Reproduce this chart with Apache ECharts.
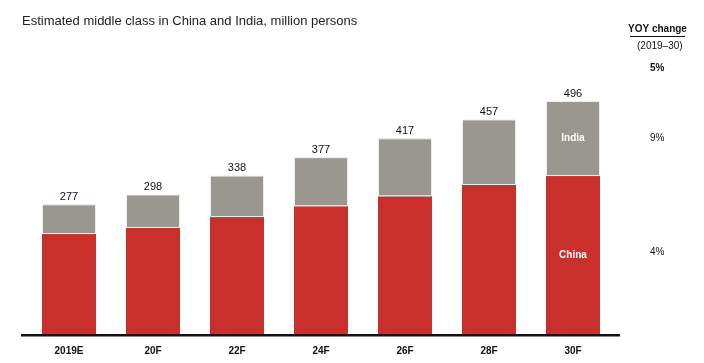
<!DOCTYPE html>
<html><head><meta charset="utf-8">
<script src="https://cdn.jsdelivr.net/npm/echarts@6/dist/echarts.min.js"></script>
<style>html,body{margin:0;padding:0;background:#fff}#c{width:704px;height:363px}</style>
</head><body><div id="c"></div>
<script>
var categories = ['2019E','20F','22F','24F','26F','28F','30F'];
var china = [214, 227, 250, 273, 294, 318, 337];
var india = [63, 71, 88, 104, 123, 139, 159];
var totals = [277, 298, 338, 377, 417, 457, 496];
var yoyTitle = 'YOY change';
var yoyPeriod = '(2019–30)';
var yoyTotal = '5%', yoyIndia = '9%', yoyChina = '4%';

var chart = echarts.init(document.getElementById('c'));
var n = categories.length;
var chinaData = china.map(function(v,i){
  return i===n-1 ? {value:v,label:{show:true,formatter:'China',color:'#fff',fontWeight:'bold',fontSize:10}} : v;
});
var indiaData = india.map(function(v,i){
  return i===n-1 ? {value:v,label:{show:true,formatter:'India',color:'#fff',fontWeight:'bold',fontSize:10}} : v;
});
chart.setOption({
  animation:false,
  backgroundColor:'#fff',
  textStyle:{fontFamily:'Liberation Sans, Arial, sans-serif'},
  title:{text:'Estimated middle class in China and India, million persons',left:17,top:10,
    textStyle:{fontSize:13,fontWeight:'normal',color:'#222',fontFamily:'Liberation Sans, Arial, sans-serif'}},
  grid:{left:27,width:588,top:52,height:283},
  xAxis:{type:'category',data:categories,
    axisLine:{show:false},axisTick:{show:false},
    axisLabel:{color:'#111',fontWeight:'bold',fontSize:10,margin:11}},
  yAxis:{type:'value',min:0,max:600,show:false,splitLine:{show:false}},
  series:[
    {name:'China',type:'bar',stack:'a',barWidth:54,data:chinaData,
     itemStyle:{color:'#C9302C'},label:{show:false,position:'inside'}},
    {name:'India',type:'bar',stack:'a',barWidth:54,data:indiaData,
     itemStyle:{color:'#9A9791',borderColor:'#eee',borderWidth:1},
     label:{show:false,position:'inside'}},
    {name:'Total',type:'bar',stack:'a',barWidth:54,data:totals.map(function(){return 0;}),
     itemStyle:{color:'transparent'},
     label:{show:true,position:'top',distance:2,color:'#111',fontSize:11,
       formatter:function(p){return totals[p.dataIndex];}}}
  ],
  graphic:[
    {type:'rect',shape:{x:21,y:334,width:599,height:2.5},style:{fill:'#111'},z:100},
    {type:'text',left:628,top:24,style:{text:yoyTitle,fontSize:10,fontWeight:'bold',fill:'#111',fontFamily:'Liberation Sans, Arial, sans-serif'}},
    {type:'rect',shape:{x:630,y:36,width:55,height:1},style:{fill:'#111'}},
    {type:'text',left:637,top:41,style:{text:yoyPeriod,fontSize:10,fill:'#111',fontFamily:'Liberation Sans, Arial, sans-serif'}},
    {type:'text',left:650,top:63,style:{text:yoyTotal,fontSize:10,fontWeight:'bold',fill:'#111',fontFamily:'Liberation Sans, Arial, sans-serif'}},
    {type:'text',left:650,top:133,style:{text:yoyIndia,fontSize:10,fill:'#111',fontFamily:'Liberation Sans, Arial, sans-serif'}},
    {type:'text',left:650,top:247,style:{text:yoyChina,fontSize:10,fill:'#111',fontFamily:'Liberation Sans, Arial, sans-serif'}}
  ]
});
</script></body></html>
